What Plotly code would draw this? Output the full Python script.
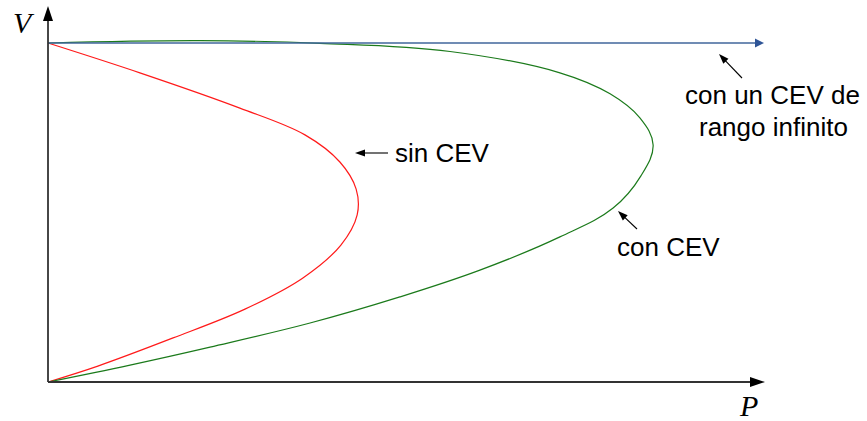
import plotly.graph_objects as go

# ---------------- data (P, V in per-unit, same scale on both axes) ----------------
red_P = [0.000, 0.271, 0.566, 0.758, 0.861, 0.909, 0.912, 0.864, 0.752, 0.581, 0.369, 0.147, 0.000]
red_V = [1.000, 0.912, 0.808, 0.729, 0.649, 0.569, 0.493, 0.404, 0.307, 0.215, 0.130, 0.047, 0.000]

green_P = [0.000, 0.448, 0.802, 1.186, 1.510, 1.658, 1.746, 1.785, 1.749, 1.667, 1.510,
           1.274, 1.038, 0.773, 0.478, 0.242, 0.000]
green_V = [1.000, 1.007, 0.999, 0.975, 0.912, 0.850, 0.779, 0.699, 0.608, 0.513, 0.428,
           0.330, 0.251, 0.174, 0.103, 0.050, 0.000]

blue_P = [0.000, 2.090]
blue_V = [1.000, 1.000]
blue_tip = 2.112

labels = ["sin CEV", "con CEV", "con un CEV de", "rango infinito"]

# ---------------- geometry helpers ----------------
S = 339.0             # pixels per unit (both axes)
OX, OY = 48.0, 382.0  # origin pixel position
W, H = 867, 421


def px(x, y):
    """pixel position -> data coordinates"""
    return ((x - OX) / S, (OY - y) / S)


def head(tip, tail, length, width):
    """triangular arrow-head path (data coords) pointing from tail to tip; sizes in px"""
    tx, ty = tip
    dx, dy = tx - tail[0], ty - tail[1]
    n = (dx * dx + dy * dy) ** 0.5
    ux, uy = dx / n, dy / n
    L, Wd = length / S, width / S
    bx, by = tx - ux * L, ty - uy * L
    p1 = (bx - uy * Wd / 2, by + ux * Wd / 2)
    p2 = (bx + uy * Wd / 2, by - ux * Wd / 2)
    return f"M{tx},{ty} L{p1[0]},{p1[1]} L{p2[0]},{p2[1]} Z"


fig = go.Figure()

fig.add_trace(go.Scatter(x=red_P, y=red_V, mode="lines",
                         line=dict(color="#ff1a1a", width=1.2, shape="spline", smoothing=1.0),
                         hoverinfo="skip", showlegend=False))
fig.add_trace(go.Scatter(x=green_P, y=green_V, mode="lines",
                         line=dict(color="#1b7a1b", width=1.2, shape="spline", smoothing=1.1),
                         hoverinfo="skip", showlegend=False))
fig.add_trace(go.Scatter(x=blue_P, y=blue_V, mode="lines",
                         line=dict(color="#41669b", width=1.4),
                         hoverinfo="skip", showlegend=False))

shapes = []
axis_col = "#333333"
x_tip = px(765, OY)
y_tip = px(OX, 6)
origin = (0.0, 0.0)
# axes
shapes.append(dict(type="line", xref="x", yref="y", x0=0, y0=0, x1=x_tip[0] - 10 / S, y1=0,
                   line=dict(color=axis_col, width=1.8)))
shapes.append(dict(type="line", xref="x", yref="y", x0=0, y0=0, x1=0, y1=y_tip[1] - 10 / S,
                   line=dict(color=axis_col, width=1.8)))
shapes.append(dict(type="path", xref="x", yref="y", path=head(x_tip, origin, 15, 10),
                   fillcolor="#000000", line=dict(width=0)))
shapes.append(dict(type="path", xref="x", yref="y", path=head(y_tip, origin, 15, 10),
                   fillcolor="#000000", line=dict(width=0)))
# blue arrow head
shapes.append(dict(type="path", xref="x", yref="y", path=head((blue_tip, 1.0), (0.0, 1.0), 9, 9),
                   fillcolor="#2f5597", line=dict(width=0)))

# pointer arrows
pointers = [((355, 153), (388, 153)),
            ((618, 211), (637, 229)),
            ((719, 54), (742, 78))]
for tip_px, tail_px in pointers:
    tip = px(*tip_px)
    tail = px(*tail_px)
    shapes.append(dict(type="line", xref="x", yref="y", x0=tail[0], y0=tail[1],
                       x1=tip[0] + (tail[0] - tip[0]) * 0.2, y1=tip[1] + (tail[1] - tip[1]) * 0.2,
                       line=dict(color="#000000", width=1.1)))
    shapes.append(dict(type="path", xref="x", yref="y", path=head(tip, tail, 10, 7),
                       fillcolor="#000000", line=dict(width=0)))

annos = []
font_t = dict(family="Liberation Sans, Arial, sans-serif", size=26, color="#000000")
pos = [((393, 153), "left"), ((615, 247), "left"), ((772.5, 95), "center"), ((773, 127), "center")]
for (p, anc), txt in zip(pos, labels):
    x, y = px(*p)
    annos.append(dict(x=x, y=y, xref="x", yref="y", text=txt, showarrow=False,
                      xanchor=anc, yanchor="middle", font=font_t))

font_ax = dict(family="Liberation Serif, Times New Roman, serif", size=30, color="#000000")
vx, vy = px(24, 22)
annos.append(dict(x=vx, y=vy, xref="x", yref="y", text="<i>V</i>", showarrow=False,
                  xanchor="center", yanchor="middle", font=font_ax))
pxx, pyy = px(748, 405)
annos.append(dict(x=pxx, y=pyy, xref="x", yref="y", text="<i>P</i>", showarrow=False,
                  xanchor="center", yanchor="middle", font=font_ax))

x0, _ = px(0, 0)
x1, _ = px(W, 0)
_, y1 = px(0, 0)
_, y0 = px(0, H)

fig.update_layout(
    width=W, height=H,
    margin=dict(l=0, r=0, t=0, b=0),
    paper_bgcolor="white", plot_bgcolor="white",
    xaxis=dict(range=[x0, x1], visible=False, fixedrange=True),
    yaxis=dict(range=[y0, y1], visible=False, fixedrange=True),
    shapes=shapes, annotations=annos,
)

fig.write_html("out.html", post_script="document.body.style.margin='0px';",
               config={"displayModeBar": False})
